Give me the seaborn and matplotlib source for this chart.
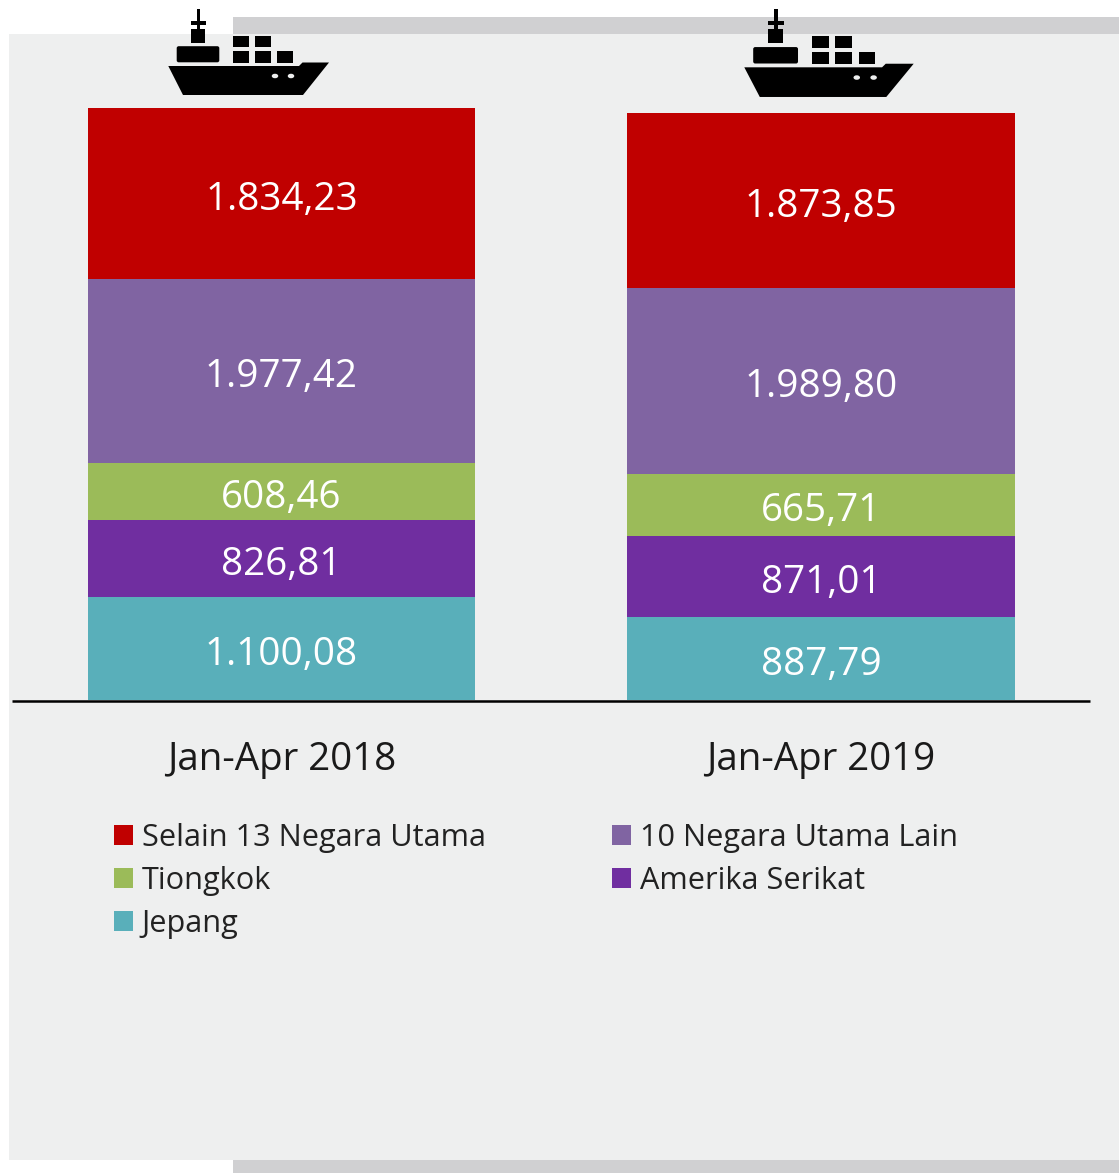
import matplotlib
matplotlib.use("Agg")
import matplotlib.pyplot as plt
import seaborn as sns
import pandas as pd
from matplotlib.patches import Rectangle, FancyBboxPatch, Polygon, Ellipse

periode = ["Jan-Apr 2018", "Jan-Apr 2019"]
# urutan dari bawah ke atas
negara = ["Jepang", "Amerika Serikat", "Tiongkok", "10 Negara Utama Lain", "Selain 13 Negara Utama"]
jepang = [1100.08, 887.79]
amerika = [826.81, 871.01]
tiongkok = [608.46, 665.71]
sepuluh = [1977.42, 1989.80]
selain = [1834.23, 1873.85]
warna = ["#59AFBA", "#702EA0", "#9BBB59", "#8064A2", "#C00000"]

W, H = 1119, 1173
FONT = "Open Sans"

sns.set_theme(style="white")
plt.rcParams["font.family"] = [FONT, "DejaVu Sans"]

fig = plt.figure(figsize=(W / 100, H / 100), dpi=100, facecolor="white")

# latar belakang, pakai koordinat piksel
bg = fig.add_axes([0, 0, 1, 1], zorder=0)
bg.set_xlim(0, W)
bg.set_ylim(H, 0)
bg.axis("off")
bg.add_patch(Rectangle((233, 17), W - 233, 20, color="#D0D0D2", lw=0))
bg.add_patch(Rectangle((233, 1155), W - 233, 18, color="#D0D0D2", lw=0))
bg.add_patch(Rectangle((9, 34), W - 9, 1126, color="#EEEFEF", lw=0))


def gambar_kapal(x0, y0, sx, sy):
    fx = lambda x: x0 + (x - 168.3) * sx
    fy = lambda y: y0 + (y - 9) * sy

    def kotak(x1, y1, x2, y2):
        bg.add_patch(Rectangle((fx(x1), fy(y1)), (x2 - x1) * sx, (y2 - y1) * sy, color="black", lw=0))

    kotak(196.5, 9, 200, 30)
    kotak(190.7, 21, 205.5, 25)
    kotak(190.7, 29, 205, 42.7)
    bg.add_patch(FancyBboxPatch((fx(177.5), fy(47)), 41 * sx, 14.5 * sy,
                                boxstyle="round,pad=0.8,rounding_size=2", color="black", lw=0))
    for x1, y1 in [(232.7, 35.5), (254.7, 35.5), (232.7, 51), (254.7, 51), (276.7, 51)]:
        kotak(x1, y1, x1 + 15.8, y1 + 11.7)
    lambung = [(168.3, 66), (299, 66), (302.5, 62.5), (329, 62.5), (303, 95), (183, 95)]
    bg.add_patch(Polygon([(fx(x), fy(y)) for x, y in lambung], color="black", lw=0))
    for x in [275, 291]:
        bg.add_patch(Ellipse((fx(x), fy(76)), 6.5, 4.5, color="#EEEFEF", lw=0))


gambar_kapal(168.3, 9, 1.0, 1.0)
gambar_kapal(744.3, 9, 1.054, 1.023)

# sumbu data, dasar batang di y=699 piksel
ax = fig.add_axes([12 / W, 1 - 699.8 / H, 1078 / W, 600 / H], zorder=1)
ax.patch.set_alpha(0)

df = pd.DataFrame({"periode": periode, "Jepang": jepang, "Amerika Serikat": amerika,
                   "Tiongkok": tiongkok, "10 Negara Utama Lain": sepuluh,
                   "Selain 13 Negara Utama": selain})

bawah = [0.0, 0.0]
handles = {}
for nama, c in zip(negara, warna):
    nilai = df[nama].tolist()
    sns.barplot(data=df, x="periode", y=nama, color=c, saturation=1, width=0.718,
                bottom=bawah, ax=ax, errorbar=None, linewidth=0)
    cont = ax.containers[-1]
    teks = ax.bar_label(cont, labels=[f"{v:,.2f}".replace(",", "#").replace(".", ",").replace("#", ".") for v in nilai],
                        label_type="center", color="white", fontsize=27.8)
    for t in teks:
        t.xyann = (0, -4.6)
    handles[nama] = Rectangle((0, 0), 1, 1, color=c, lw=0)
    bawah = [b + v for b, v in zip(bawah, nilai)]

ax.set_xlim(-0.4995, 1.4985)
ax.set_ylim(0, 6431)
ax.set_xlabel("")
ax.set_ylabel("")
ax.set_yticks([])
ax.tick_params(axis="x", length=0, pad=28.4, labelsize=27.7, labelcolor="#1a1a1a")
sns.despine(ax=ax, left=True)
ax.spines["bottom"].set_color("black")
ax.spines["bottom"].set_linewidth(1.8)
ax.spines["bottom"].set_capstyle("butt")
ax.spines["bottom"].set_position(("outward", 1.0))

urutan = ["Selain 13 Negara Utama", "Tiongkok", "Jepang", "10 Negara Utama Lain", "Amerika Serikat"]
fig.legend([handles[n] for n in urutan], urutan, ncol=2, frameon=False,
           loc="upper left", bbox_to_anchor=(114 / W, 1 - 823 / H), borderpad=0, borderaxespad=0,
           handlelength=0.62, handleheight=0.62, handletextpad=0.29,
           columnspacing=4.1, labelspacing=0.42, fontsize=22.1, labelcolor="#222222")

fig.savefig("out.png", dpi=100)
